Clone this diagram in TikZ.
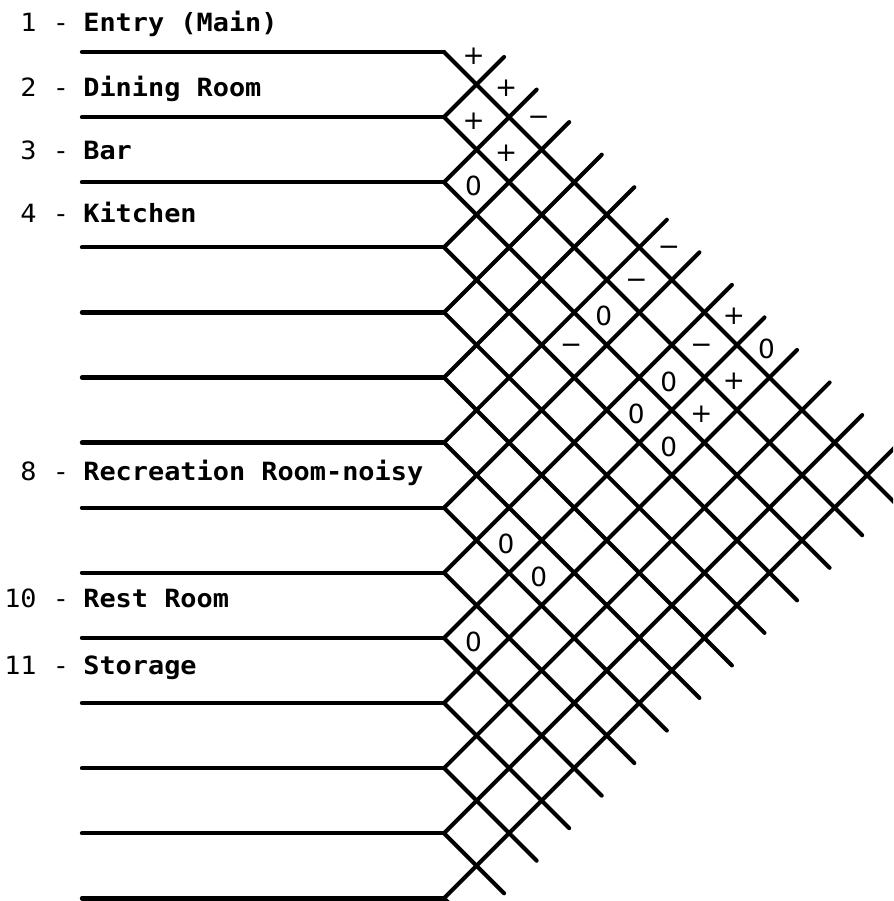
\documentclass[tikz,border=0pt]{standalone}
\usepackage{fontspec}
\newfontfamily\plotfont[FakeStretch=1.07]{DejaVu Sans Mono}
\newfontfamily\relfont{DejaVu Sans}
\newcommand{\relminus}{\char"2212}
\usetikzlibrary{calc}

\begin{document}
\begin{tikzpicture}[x=0.02cm, y=-0.02cm,
  rowline/.style={line width=2.5pt, line cap=round},
  chartline/.style={line width=2.3pt, line cap=round},
  room/.style={anchor=base west, inner sep=0pt,
    font=\plotfont\bfseries\fontsize{14.3}{17}\selectfont},
  num/.style={anchor=base east, inner sep=0pt,
    font=\plotfont\fontsize{14.3}{17}\selectfont},
  sepmark/.style={anchor=base, inner sep=0pt,
    font=\plotfont\fontsize{14.3}{17}\selectfont},
  rel/.style={inner sep=0pt, font=\relfont\fontsize{15}{17}\selectfont}
]
  \useasboundingbox (0,0) rectangle (893,901);
  \clip (0,0) rectangle (893,901);

  % Row lines and their vertices
  \foreach \k in {1,...,14} {
    \coordinate (v\k) at (444, {52+(\k-1)*65.1});
    \draw[rowline] (82, {52+(\k-1)*65.1}) -- (v\k);
  }

  % Diagonals of the matrix
  \foreach \k in {1,...,14}
    \draw[chartline] (v\k) -- ++({(15-\k)*32.55-5}, {(15-\k)*32.55-5});
  \foreach \k in {2,...,14}
    \draw[chartline] (v\k) -- ++({\k*32.55-5}, {-(\k*32.55-5)});

  % Room labels
  \foreach \n/\b/\name in {1/32/Entry (Main), 2/97/Dining Room, 3/160/Bar,
      4/223/Kitchen, 8/480/Recreation Room-noisy, 10/607/Rest Room,
      11/674/Storage} {
    \node[num] (num\n) at (37, \b) {\n};
    \node[sepmark] (sep\n) at (61, \b) {-};
    \node[room] (room\n) at (83, \b) {\name};
  }

  % Relationships
  \foreach \i/\j/\s in {1/2/+, 1/3/+, 2/3/+, 1/4/\relminus, 2/4/+, 3/4/0,
      1/8/\relminus, 2/8/\relminus, 3/8/0, 4/8/\relminus,
      1/10/+, 1/11/0, 2/10/\relminus, 2/11/+, 3/10/0, 4/10/0,
      3/11/+, 4/11/0, 8/10/0, 8/11/0, 10/11/0}
    \node[rel] (r\i-\j) at ({444+(\j-\i)*32.55-3}, {52+(\i+\j-3)*32.55+4}) {\s};
\end{tikzpicture}
\end{document}
